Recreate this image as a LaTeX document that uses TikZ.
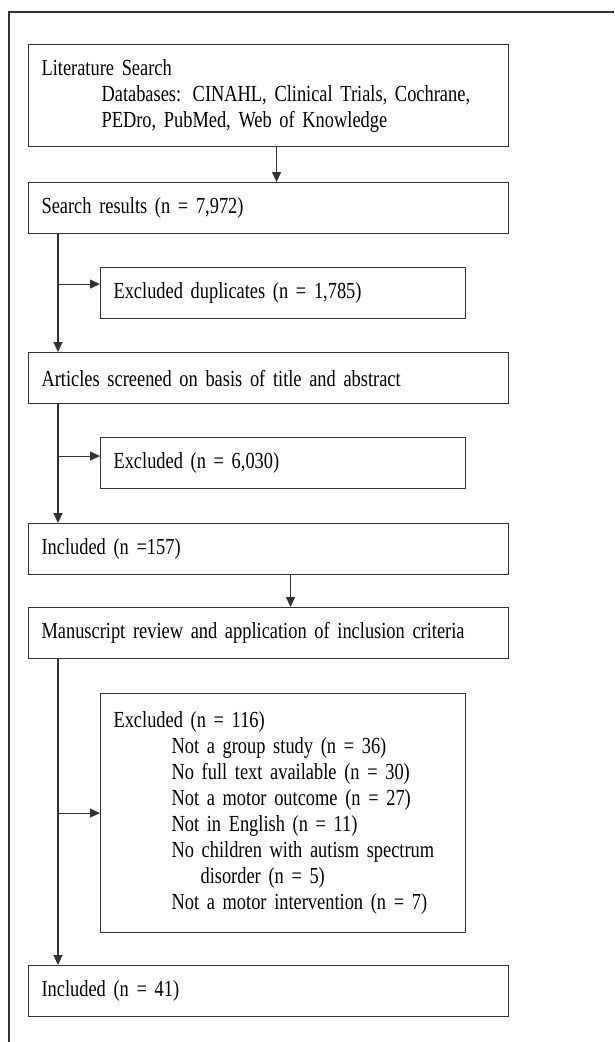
\documentclass[tikz,border=0pt]{standalone}
\usepackage{fontspec}
\setmainfont[FakeStretch=0.80]{Liberation Serif}
\usepackage{xcolor}
\usepackage{tikz}
\usetikzlibrary{arrows.meta}
\definecolor{FlowLine}{HTML}{333333}
\newcommand\boxfont{\fontsize{23}{26}\selectfont\fontdimen2\font=4.2pt\fontdimen3\font=1pt\fontdimen4\font=1pt\relax}

\begin{document}
\begin{tikzpicture}[x=1pt,y=-1pt,
  mainbox/.style={draw=FlowLine,line width=1.1pt,anchor=north west,minimum height=51pt,text width=454pt,inner xsep=13pt,align=left,font=\boxfont},
  sidebox/.style={mainbox,text width=339pt},
  flow/.style={FlowLine,line width=1.1pt,-{Triangle[length=10pt,width=9pt]}}]
\useasboundingbox (0,0) rectangle (614,1042);
\draw[FlowLine,line width=1.1pt] (9,1042) -- (9,12) -- (614,12);

\node[mainbox,minimum height=102pt] (lit) at (28,44) {Literature Search\\
  \hspace*{60pt}Databases: CINAHL, Clinical Trials, Cochrane,\\
  \hspace*{60pt}PEDro, PubMed, Web of Knowledge};
\node[mainbox] (res) at (28,182) {Search results (n = 7,972)};
\node[sidebox] (dup) at (100,267) {Excluded duplicates (n = 1,785)};
\node[mainbox] (scr) at (28,352) {Articles screened on basis of title and abstract};
\node[sidebox] (exa) at (100,437) {Excluded (n = 6,030)};
\node[mainbox] (inc1) at (28,523) {Included (n =157)};
\node[mainbox] (man) at (28,607) {Manuscript review and application of inclusion criteria};
\node[sidebox,minimum height=239pt] (exb) at (100,693) {Excluded (n = 116)\\
  \hspace*{58pt}Not a group study (n = 36)\\
  \hspace*{58pt}No full text available (n = 30)\\
  \hspace*{58pt}Not a motor outcome (n = 27)\\
  \hspace*{58pt}Not in English (n = 11)\\
  \hspace*{58pt}No children with autism spectrum\\
  \hspace*{87pt}disorder (n = 5)\\
  \hspace*{58pt}Not a motor intervention (n = 7)};
\node[mainbox] (inc2) at (28,965) {Included (n = 41)};

% straight down
\draw[flow] ([xshift=8pt]lit.south) -- ([xshift=8pt]res.north);
\draw[flow] ([xshift=22pt]inc1.south) -- ([xshift=22pt]man.north);

% trunks with side exits
\coordinate (t1) at ([xshift=30pt]res.south west);
\coordinate (t2) at ([xshift=30pt]scr.south west);
\coordinate (t3) at ([xshift=30pt]man.south west);
\draw[flow] (t1) -- ([xshift=30pt]scr.north west);
\draw[flow] ([yshift=9pt]dup.west -| t1) -- ([yshift=9pt]dup.west);
\draw[flow] (t2) -- ([xshift=30pt]inc1.north west);
\draw[flow] ([yshift=7pt]exa.west -| t2) -- ([yshift=7pt]exa.west);
\draw[flow] (t3) -- ([xshift=30pt]inc2.north west);
\draw[flow] (exb.west -| t3) -- (exb.west);
\end{tikzpicture}
\end{document}
